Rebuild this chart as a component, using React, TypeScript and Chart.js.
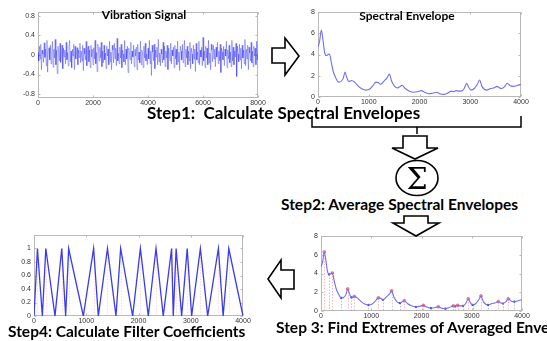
import React, { useEffect, useRef } from 'react';
import { Chart, registerables } from 'chart.js';
Chart.register(...registerables);

// ---------- data ----------
const vibrationSignal = [
  0.05,-0.12,0.18,-0.08,0.22,-0.3,0.1,0.02,-0.15,0.25,-0.05,0.12,-0.22,0.3,-0.35,0.08,0.15,-0.1,0.2,-0.18,
  0.05,0.28,-0.25,0.12,-0.06,0.32,-0.2,0.1,-0.38,0.18,0.06,-0.12,0.24,-0.15,0.02,0.2,-0.28,0.14,-0.04,0.1,
  -0.18,0.26,-0.1,0.05,-0.22,0.16,0.3,-0.14,0.08,-0.26,0.12,-0.02,0.22,-0.3,0.18,-0.08,0.04,0.15,-0.2,0.1,
  -0.05,0.24,-0.16,0.08,-0.12,0.2,-0.32,0.14,0.02,-0.1,0.28,-0.22,0.06,0.18,-0.14,0.1,-0.26,0.2,-0.04,0.12,
  -0.2,0.15,-0.08,0.3,-0.18,0.05,-0.34,0.22,0.1,-0.12,0.16,-0.06,0.26,-0.24,0.08,-0.16,0.2,-0.1,0.04,-0.28,
  0.18,-0.02,0.12,-0.2,0.28,-0.14,0.06,-0.3,0.2,0.1,-0.16,0.24,-0.08,0.14,-0.22,0.34,-0.12,0.04,-0.18,0.16,
  -0.06,0.22,-0.26,0.1,0.02,-0.14,0.3,-0.2,0.12,-0.08,0.18,-0.36,0.14,0.06,-0.1,0.26,-0.18,0.08,-0.04,0.2,
  -0.24,0.12,-0.02,0.16,-0.3,0.22,-0.1,0.06,-0.16,0.28,-0.2,0.1,0.04,-0.26,0.18,-0.06,0.24,-0.12,0.02,-0.2,
  0.14,-0.08,0.3,-0.18,0.08,-0.42,0.2,0.06,-0.12,0.22,-0.28,0.1,-0.04,0.16,-0.2,0.32,-0.14,0.04,-0.22,0.12,
  0.02,-0.16,0.26,-0.1,0.18,-0.24,0.08,-0.06,0.2,-0.3,0.14,0.04,-0.12,0.24,-0.18,0.1,-0.02,0.16,-0.26,0.2,
  -0.08,0.12,-0.2,0.28,-0.14,0.06,-0.32,0.18,0.08,-0.1,0.22,-0.16,0.04,0.3,-0.24,0.12,-0.06,0.18,-0.2,0.08,
  -0.12,0.26,-0.28,0.14,0.02,-0.18,0.2,-0.08,0.12,-0.34,0.24,-0.1,0.06,-0.16,0.28,-0.2,0.1,-0.04,0.16,-0.22,
  0.36,-0.12,0.08,-0.26,0.18,-0.06,0.14,-0.2,0.3,-0.16,0.04,-0.3,0.22,0.1,-0.14,0.2,-0.08,0.12,-0.24,0.16,
  -0.04,0.26,-0.18,0.08,-0.12,0.22,-0.36,0.14,0.06,-0.1,0.18,-0.22,0.12,-0.02,0.28,-0.26,0.1,-0.08,0.2,-0.16,
  0.06,-0.24,0.3,-0.12,0.16,-0.2,0.08,-0.04,0.24,-0.44,0.18,0.02,-0.14,0.22,-0.1,0.14,-0.28,0.2,-0.06,0.1,
  -0.18,0.32,-0.22,0.12,-0.08,0.2,-0.3,0.16,0.04,-0.12,0.26,-0.16,0.08,-0.24,0.18,-0.02,0.14,-0.2,0.28,-0.1,
  0.05,
];
const vibrationSampleStep = 25;
const vibXTicks = [0, 2000, 4000, 6000, 8000];
const vibYTicks = [-0.8, -0.4, 0, 0.4, 0.8];

const envelopeFreq = [
  0, 30, 66, 100, 130, 160, 200, 226, 260, 300, 350, 402, 450, 500, 531, 570, 606, 663, 720, 800,
  870, 944, 1020, 1080, 1141, 1190, 1231, 1300, 1360, 1406, 1450, 1510, 1569, 1620, 1658, 1720, 1800, 1888, 1960, 2036,
  2100, 2187, 2260, 2335, 2400, 2474, 2550, 2633, 2666, 2720, 2780, 2826, 2880, 2932, 2970, 3017, 3080, 3140, 3184, 3230,
  3324, 3400, 3460, 3529, 3580, 3620, 3680, 3728, 3790, 3850, 3930, 4000,
];
const envelopeAmp = [
  4.7, 5.2, 6.3, 5.3, 4.2, 3.9, 4.0, 4.05, 3.3, 2.4, 1.8, 1.4, 1.45, 1.8, 2.35, 1.8, 1.45, 1.55, 1.4, 1.0,
  0.75, 0.65, 0.75, 1.05, 1.4, 1.35, 1.2, 1.5, 1.8, 2.15, 1.5, 1.0, 0.85, 1.0, 1.1, 0.8, 0.55, 0.45, 0.5, 0.6,
  0.45, 0.3, 0.35, 0.45, 0.3, 0.25, 0.35, 0.55, 0.5, 0.6, 0.55, 0.55, 0.8, 1.3, 0.9, 0.65, 0.8, 1.2, 1.6, 1.0,
  0.65, 0.8, 0.85, 1.0, 0.85, 0.8, 1.0, 1.3, 1.05, 1.0, 1.1, 1.2,
];
const envXTicks = [0, 1000, 2000, 3000, 4000];
const envYTicks = [0, 2, 4, 6, 8];

const maximaFreq = [66, 226, 531, 663, 1141, 1406, 1658, 2036, 2335, 2633, 2720, 2932, 3184, 3529, 3728];
const maximaAmp = [6.3, 4.05, 2.35, 1.55, 1.4, 2.15, 1.1, 0.6, 0.45, 0.55, 0.6, 1.3, 1.6, 1.0, 1.3];
const minimaFreq = [160, 402, 606, 944, 1231, 1569, 1888, 2187, 2474, 2666, 2826, 3017, 3324, 3620, 3850];
const minimaAmp = [3.9, 1.4, 1.45, 0.65, 1.2, 0.85, 0.45, 0.3, 0.25, 0.5, 0.55, 0.65, 0.65, 0.8, 1.0];

const filterFreq = [0, 66, 160, 226, 402, 531, 606, 663, 944, 1141, 1231, 1406, 1569, 1658, 1888, 2036, 2187, 2335, 2474, 2633, 2666, 2720, 2826, 2932, 3017, 3184, 3324, 3529, 3620, 3728, 4000];
const filterCoef = [0, 1, 0, 1, 0, 1, 0, 1, 0, 1, 0, 1, 0, 1, 0, 1, 0, 1, 0, 1, 0, 1, 0, 1, 0, 1, 0, 1, 0, 1, 0];
const filterYTicks = [0, 0.2, 0.4, 0.6, 0.8, 1];

// ---------- helpers ----------
const tickFont = { family: 'Liberation Sans', size: 7 };

function axis(ticksArr: number[], min: number, max: number, horizontal: boolean, size: number, pad: number) {
  return {
    type: 'linear',
    min,
    max,
    afterBuildTicks: (s: any) => {
      s.ticks = ticksArr.map((v) => ({ value: v }));
    },
    afterFit: (s: any) => {
      if (horizontal) {
        s.height = size;
        s.paddingLeft = 0;
        s.paddingRight = 0;
      } else {
        s.width = size;
        s.paddingTop = 0;
        s.paddingBottom = 0;
      }
    },
    ticks: {
      font: tickFont,
      color: '#333',
      padding: pad,
      maxRotation: 0,
      minRotation: 0,
      autoSkip: false,
      callback: (v: any) => String(v),
    },
    grid: { display: false, drawTicks: false },
    border: { display: false },
  };
}

const framePlugin = {
  id: 'frame',
  beforeDatasetsDraw(chart: any) {
    const { ctx, chartArea: a, scales } = chart;
    const x = scales.x;
    const y = scales.y;
    ctx.save();
    ctx.strokeStyle = '#b8b8b8';
    ctx.lineWidth = 1;
    const l = Math.round(a.left) + 0.5;
    const r = Math.round(a.right) - 0.5;
    const t = Math.round(a.top) + 0.5;
    const b = Math.round(a.bottom) - 0.5;
    ctx.strokeRect(l, t, r - l, b - t);
    ctx.beginPath();
    x.ticks.forEach((tk: any) => {
      const px = Math.round(x.getPixelForValue(tk.value)) + 0.5;
      ctx.moveTo(px, b);
      ctx.lineTo(px, b - 2);
      ctx.moveTo(px, t);
      ctx.lineTo(px, t + 2);
    });
    y.ticks.forEach((tk: any) => {
      const py = Math.round(y.getPixelForValue(tk.value)) + 0.5;
      ctx.moveTo(l, py);
      ctx.lineTo(l + 2, py);
      ctx.moveTo(r, py);
      ctx.lineTo(r - 2, py);
    });
    ctx.stroke();
    ctx.restore();
  },
};

const stemPlugin = {
  id: 'stems',
  beforeDatasetsDraw(chart: any, _args: any, opts: any) {
    if (!opts || !opts.sets) return;
    const { ctx, scales } = chart;
    const x = scales.x;
    const y = scales.y;
    ctx.save();
    ctx.lineWidth = 1;
    ctx.setLineDash([1.5, 1.5]);
    opts.sets.forEach((s: any) => {
      ctx.strokeStyle = s.color;
      ctx.beginPath();
      s.xs.forEach((v: number, i: number) => {
        const px = Math.round(x.getPixelForValue(v)) + 0.5;
        ctx.moveTo(px, y.getPixelForValue(s.ys[i]));
        ctx.lineTo(px, y.getPixelForValue(0));
      });
      ctx.stroke();
    });
    ctx.restore();
  },
};

function pts(xs: number[], ys: number[]) {
  return xs.map((x, i) => ({ x, y: ys[i] }));
}

function ChartCanvas({ left, top, width, height, make }: any) {
  const ref = useRef<HTMLCanvasElement>(null);
  useEffect(() => {
    const chart = new Chart(ref.current as HTMLCanvasElement, make());
    return () => chart.destroy();
  }, []);
  return (
    <div style={{ position: 'absolute', left, top, width, height }}>
      <canvas ref={ref} width={width} height={height} style={{ width, height, display: 'block' }} />
    </div>
  );
}

const baseOptions = (padding: any, scales: any, extraPlugins: any = {}) => ({
  responsive: false,
  maintainAspectRatio: false,
  animation: false,
  events: [],
  layout: { padding },
  plugins: { legend: { display: false }, tooltip: { enabled: false }, title: { display: false }, ...extraPlugins },
  scales,
});

// chart 1: vibration signal
const makeVibration = () => ({
  type: 'line',
  data: {
    datasets: [
      {
        data: vibrationSignal.map((v, i) => ({ x: i * vibrationSampleStep, y: v })),
        borderColor: 'rgba(30,30,240,0.6)',
        borderWidth: 0.6,
        pointRadius: 0,
        tension: 0,
      },
    ],
  },
  options: baseOptions(
    { left: 0, top: 4, right: 12, bottom: 0 },
    { x: axis(vibXTicks, 0, 8000, true, 10, 1), y: axis(vibYTicks, -0.88, 0.88, false, 28, 3) }
  ),
  plugins: [framePlugin],
});

// chart 2: spectral envelope
const makeEnvelope = () => ({
  type: 'line',
  data: {
    datasets: [
      {
        data: pts(envelopeFreq, envelopeAmp),
        borderColor: '#6f6ff5',
        borderWidth: 1.1,
        pointRadius: 0,
        cubicInterpolationMode: 'monotone',
      },
    ],
  },
  options: baseOptions(
    { left: 0, top: 6, right: 9, bottom: 0 },
    { x: axis(envXTicks, 0, 4000, true, 11, 1), y: axis(envYTicks, 0, 8, false, 18, 3) }
  ),
  plugins: [framePlugin],
});

// chart 3: extremes
const makeExtremes = () => ({
  type: 'line',
  data: {
    datasets: [
      {
        data: pts(envelopeFreq, envelopeAmp),
        borderColor: '#6f6ff5',
        borderWidth: 1.1,
        pointRadius: 0,
        cubicInterpolationMode: 'monotone',
      },
      {
        type: 'scatter',
        data: pts(maximaFreq, maximaAmp),
        showLine: false,
        pointRadius: 1.4,
        pointBackgroundColor: '#f3a0a8',
        pointBorderColor: '#e05060',
        pointBorderWidth: 0.7,
      },
      {
        type: 'scatter',
        data: pts(minimaFreq, minimaAmp),
        showLine: false,
        pointRadius: 1.1,
        pointBackgroundColor: '#2020e0',
        pointBorderColor: '#2020e0',
        pointBorderWidth: 0,
      },
    ],
  },
  options: baseOptions(
    { left: 0, top: 6, right: 10, bottom: 0 },
    { x: axis(envXTicks, 0, 4000, true, 9, 1), y: axis(envYTicks, 0, 8, false, 21, 3) },
    {
      stems: {
        sets: [
          { xs: maximaFreq, ys: maximaAmp, color: 'rgba(240,140,150,0.6)' },
          { xs: minimaFreq, ys: minimaAmp, color: 'rgba(140,140,240,0.6)' },
        ],
      },
    }
  ),
  plugins: [framePlugin, stemPlugin],
});

// chart 4: filter coefficients
const makeFilters = () => ({
  type: 'line',
  data: {
    datasets: [
      {
        data: pts(filterFreq, filterCoef),
        borderColor: '#3a3aee',
        borderWidth: 1.3,
        pointRadius: 0,
        tension: 0,
      },
    ],
  },
  options: baseOptions(
    { left: 0, top: 5, right: 10, bottom: 0 },
    { x: axis(envXTicks, 0, 4000, true, 7, 1), y: axis(filterYTicks, 0, 1.2, false, 26, 3) },
    {
      stems: {
        sets: [{ xs: maximaFreq, ys: maximaFreq.map(() => 1), color: 'rgba(240,170,180,0.45)' }],
      },
    }
  ),
  plugins: [framePlugin, stemPlugin],
});

const stepFont = "'Lato', 'Open Sans', sans-serif";

function Label({ text, left, cy, size, center }: any) {
  return (
    <div
      style={{
        position: 'absolute',
        left,
        top: cy - size / 2,
        fontFamily: stepFont,
        fontWeight: 700,
        fontSize: size,
        lineHeight: `${size}px`,
        whiteSpace: 'nowrap',
        color: '#000',
        transform: center ? 'translateX(-50%)' : undefined,
      }}
    >
      {text}
    </div>
  );
}

export default function App() {
  return (
    <div
      style={{
        position: 'fixed',
        left: 0,
        top: 0,
        width: 547,
        height: 341,
        overflow: 'hidden',
        background: '#fff',
      }}
    >
      <ChartCanvas left={10} top={8} width={260} height={100} make={makeVibration} />
      <ChartCanvas left={300} top={6} width={230} height={102} make={makeEnvelope} />
      <ChartCanvas left={300} top={230} width={232} height={90} make={makeExtremes} />
      <ChartCanvas left={8} top={230} width={245} height={93} make={makeFilters} />

      <Label text="Vibration Signal" left={144} cy={15} size={12} center />
      <Label text="Spectral Envelope" left={407} cy={16} size={12} center />

      <Label text={'Step1:\u00a0 Calculate Spectral Envelopes'} left={147} cy={112} size={17} />
      <Label text="Step2: Average Spectral Envelopes" left={281} cy={205} size={15.5} />
      <Label text="Step 3: Find Extremes of Averaged Envelopes" left={276} cy={328} size={15.5} />
      <Label text="Step4: Calculate Filter Coefficients" left={8} cy={332} size={15.5} />

      <svg
        width={547}
        height={341}
        style={{ position: 'absolute', left: 0, top: 0, pointerEvents: 'none' }}
      >
        <g fill="#fff" stroke="#000" strokeWidth={1.6} strokeLinejoin="miter">
          <polygon points="272,48 285,48 285,38 299,56 285,75 285,63 272,63" />
          <polygon points="294,270 281,270 281,260 268,279 281,298 281,289 294,289" />
          <polygon points="403,136 427,136 427,148 438,148 415,159 392,148 403,148" />
          <polygon points="404,216 428,216 428,223 439,223 416,236 393,223 404,223" />
          <ellipse cx={417} cy={178} rx={21} ry={17.5} />
        </g>
        <g fill="none" stroke="#000" strokeWidth={1.5}>
          <path d="M312,116 L312,127 L521,127 L521,116" />
          <path d="M417,127 L417,134" />
        </g>
        <text
          x={417}
          y={189}
          textAnchor="middle"
          fontFamily="'DejaVu Serif', 'Liberation Serif', serif"
          fontSize={30}
          fill="#000"
        >
          Σ
        </text>
      </svg>
    </div>
  );
}
